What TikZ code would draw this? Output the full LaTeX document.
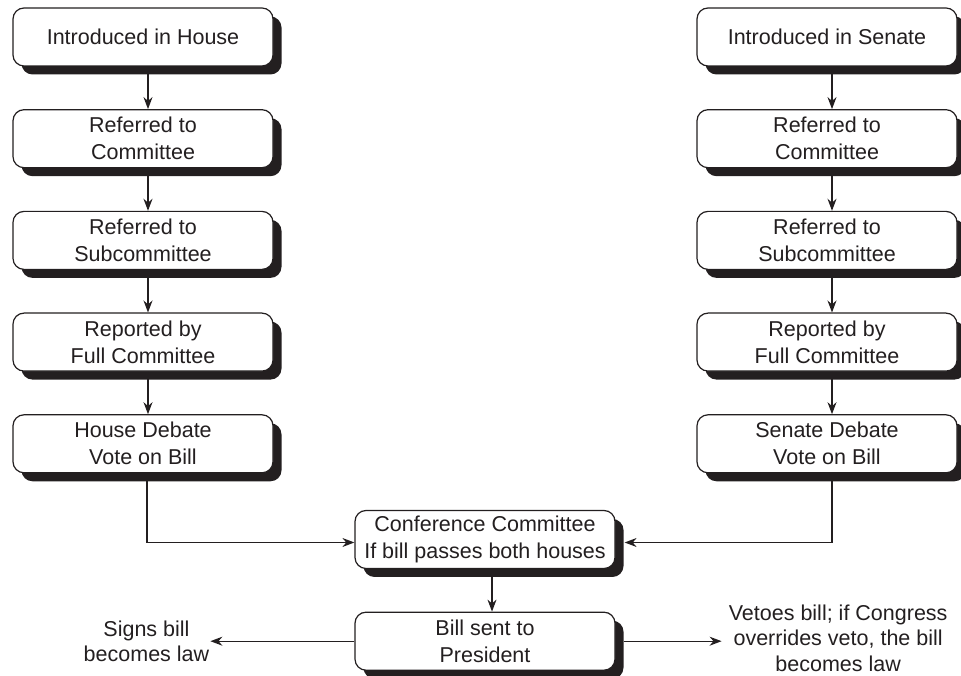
\documentclass[tikz,border=0pt]{standalone}
\usepackage{fontspec}
\setmainfont{Liberation Sans}
\usepackage{xcolor}
\usetikzlibrary{positioning,shapes,arrows.meta,calc,shadows}
\definecolor{ink}{HTML}{231F20}
\tikzset{
  stage/.style={draw=ink, fill=white, rounded corners=11pt, line width=1.2pt, minimum width=260pt, minimum height=58pt, align=center, text=ink,
    drop shadow={shadow xshift=8.5pt, shadow yshift=-8.5pt, fill=ink, opacity=1}},
  outcome/.style={align=center, text=ink, inner sep=1pt, font=\fontsize{21.5pt}{25.5pt}\selectfont},
  flow/.style={draw=ink, line width=1.2pt, -{Stealth[length=12pt,width=9pt]}},
}

\begin{document}
\begin{tikzpicture}[x=1pt, y=1pt, node distance=42.5pt, font=\fontsize{21.5pt}{27pt}\selectfont]
\useasboundingbox (0,0) rectangle (961,676);

% --- House column ---
\node (hintro) [stage] at (143,639) {Introduced in House};
\node (hcomm)  [stage, below=of hintro] {Referred to\\Committee};
\node (hsub)   [stage, below=of hcomm]  {Referred to\\Subcommittee};
\node (hfull)  [stage, below=of hsub]   {Reported by\\Full Committee};
\node (hdeb)   [stage, below=of hfull]  {House Debate\\Vote on Bill};

% --- Senate column ---
\node (sintro) [stage] at (827,639) {Introduced in Senate};
\node (scomm)  [stage, below=of sintro] {Referred to\\Committee};
\node (ssub)   [stage, below=of scomm]  {Referred to\\Subcommittee};
\node (sfull)  [stage, below=of ssub]   {Reported by\\Full Committee};
\node (sdeb)   [stage, below=of sfull]  {Senate Debate\\Vote on Bill};

% --- joint steps ---
\node (conf) [stage] at (485,136.5) {Conference Committee\\If bill passes both houses};
\node (pres) [stage, below=of conf] {Bill sent to\\President};

% --- outcomes ---
\node (signs) [outcome, left=144pt of pres]  {Signs bill\\becomes law};
\node (veto)  [outcome, right=112pt of pres, yshift=3pt] {Vetoes bill; if Congress\\overrides veto, the bill\\becomes law};

% --- House arrows ---
\draw[flow] ([xshift=5pt]hintro.south) -- ([xshift=5pt]hcomm.north);
\draw[flow] ([xshift=5pt]hcomm.south)  -- ([xshift=5pt]hsub.north);
\draw[flow] ([xshift=5pt]hsub.south)   -- ([xshift=5pt]hfull.north);
\draw[flow] ([xshift=5pt]hfull.south)  -- ([xshift=5pt]hdeb.north);

% --- Senate arrows ---
\draw[flow] ([xshift=5pt]sintro.south) -- ([xshift=5pt]scomm.north);
\draw[flow] ([xshift=5pt]scomm.south)  -- ([xshift=5pt]ssub.north);
\draw[flow] ([xshift=5pt]ssub.south)   -- ([xshift=5pt]sfull.north);
\draw[flow] ([xshift=5pt]sfull.south)  -- ([xshift=5pt]sdeb.north);

% --- both houses into conference ---
\draw[flow] ([xshift=4pt]hdeb.south) |- ([yshift=-3pt]conf.west);
\draw[flow] ([xshift=5pt]sdeb.south) |- ([xshift=9pt,yshift=-3pt]conf.east);

% --- to the President and out ---
\draw[flow] ([xshift=7pt]conf.south) -- ([xshift=7pt]pres.north);
\draw[flow] (pres.west) -- (signs.east);
\draw[flow] ([xshift=8pt]pres.east) -- ([xshift=-6pt,yshift=-3pt]veto.west);

\end{tikzpicture}
\end{document}
